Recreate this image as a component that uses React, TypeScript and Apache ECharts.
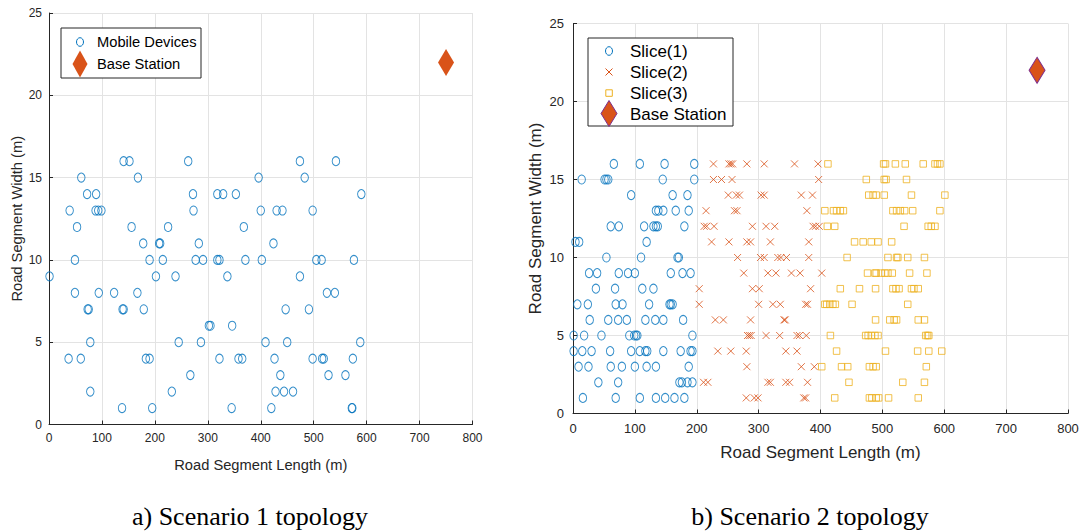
import React, { useEffect, useRef } from "react";
import * as echarts from "echarts";

// ---------- Data ----------
const xTicks = { min: 0, max: 800, interval: 100 };
const yTicks = { min: 0, max: 25, interval: 5 };

const baseStation1: [number, number][] = [[750, 22]];
const baseStation2: [number, number][] = [[750, 22]];

// Scenario 1: mobile devices [length, width]
const mobileDevices: [number, number][] = [
  [141, 16], [152, 16], [263, 16], [474, 16], [542, 16],
  [61, 15], [168, 15], [396, 15], [483, 15],
  [72, 14], [89, 14], [272, 14], [318, 14], [329, 14], [353, 14], [590, 14],
  [39, 13], [88, 13], [93, 13], [99, 13], [273, 13], [400, 13], [430, 13], [441, 13], [498, 13],
  [53, 12], [156, 12], [225, 12], [368, 12],
  [178, 11], [208, 11], [210, 11], [283, 11], [424, 11],
  [49, 10], [190, 10], [215, 10], [277, 10], [291, 10], [318, 10], [322, 10], [371, 10], [402, 10], [505, 10], [515, 10], [576, 10],
  [1, 9], [202, 9], [239, 9], [337, 9], [474, 9],
  [49, 8], [94, 8], [123, 8], [167, 8], [525, 8], [540, 8],
  [73, 7], [75, 7], [139, 7], [141, 7], [179, 7], [447, 7], [491, 7],
  [302, 6], [305, 6], [346, 6],
  [78, 5], [245, 5], [287, 5], [409, 5], [450, 5], [588, 5],
  [37, 4], [60, 4], [183, 4], [190, 4], [322, 4], [358, 4], [365, 4], [426, 4], [498, 4], [516, 4], [519, 4], [574, 4],
  [267, 3], [437, 3], [528, 3], [560, 3],
  [78, 2], [232, 2], [428, 2], [444, 2], [461, 2],
  [138, 1], [195, 1], [345, 1], [420, 1], [572, 1], [573, 1],
];

// Scenario 2: slices
const slice1: [number, number][] = [
  [66, 16], [108, 16], [148, 16], [196, 16],
  [14, 15], [51, 15], [54, 15], [57, 15], [145, 15], [196, 15],
  [94, 14], [161, 14], [185, 14],
  [134, 13], [138, 13], [146, 13], [166, 13], [187, 13],
  [61, 12], [74, 12], [115, 12], [130, 12], [134, 12], [137, 12], [180, 12],
  [4, 11], [10, 11], [119, 11],
  [54, 10], [110, 10], [169, 10], [171, 10],
  [26, 9], [39, 9], [74, 9], [89, 9], [100, 9], [158, 9], [177, 9], [190, 9],
  [37, 8], [68, 8], [112, 8], [130, 8],
  [7, 7], [24, 7], [69, 7], [80, 7], [123, 7], [156, 7], [158, 7], [161, 7],
  [27, 6], [57, 6], [73, 6], [87, 6], [117, 6], [133, 6], [146, 6], [178, 6],
  [1, 5], [18, 5], [46, 5], [91, 5], [99, 5], [102, 5], [104, 5], [193, 5],
  [1, 4], [15, 4], [30, 4], [60, 4], [94, 4], [108, 4], [117, 4], [120, 4], [146, 4], [174, 4], [190, 4], [193, 4],
  [9, 3], [25, 3], [61, 3], [79, 3], [100, 3], [119, 3], [134, 3], [187, 3],
  [41, 2], [73, 2], [172, 2], [176, 2], [185, 2], [193, 2],
  [16, 1], [69, 1], [108, 1], [134, 1], [149, 1], [164, 1], [180, 1],
];

const slice2: [number, number][] = [
  [227, 16], [252, 16], [255, 16], [258, 16], [281, 16], [309, 16], [358, 16], [396, 16],
  [227, 15], [240, 15], [257, 15], [397, 15],
  [251, 14], [264, 14], [269, 14], [304, 14], [309, 14], [369, 14], [387, 14],
  [215, 13], [261, 13], [265, 13], [378, 13],
  [212, 12], [216, 12], [228, 12], [290, 12], [312, 12], [326, 12], [388, 12], [392, 12], [398, 12],
  [224, 11], [252, 11], [281, 11], [287, 11], [319, 11], [381, 11],
  [266, 10], [303, 10], [309, 10], [331, 10], [336, 10], [345, 10], [381, 10],
  [276, 9], [315, 9], [328, 9], [353, 9], [367, 9], [402, 9],
  [204, 8], [290, 8], [301, 8], [384, 8],
  [204, 7], [300, 7], [323, 7], [335, 7], [376, 7], [379, 7],
  [230, 6], [243, 6], [287, 6], [341, 6], [343, 6],
  [282, 5], [285, 5], [288, 5], [312, 5], [334, 5], [362, 5], [366, 5], [377, 5],
  [234, 4], [255, 4], [280, 4], [344, 4], [362, 4],
  [281, 3], [369, 3], [390, 3],
  [211, 2], [218, 2], [315, 2], [319, 2], [344, 2], [350, 2], [379, 2],
  [280, 1], [293, 1], [299, 1], [373, 1], [376, 1],
];

const slice3: [number, number][] = [
  [412, 16], [502, 16], [505, 16], [521, 16], [537, 16], [566, 16], [585, 16], [589, 16], [593, 16],
  [474, 15], [503, 15], [506, 15], [539, 15],
  [478, 14], [485, 14], [490, 14], [503, 14], [547, 14], [601, 14],
  [407, 13], [421, 13], [426, 13], [432, 13], [437, 13], [517, 13], [523, 13], [529, 13], [536, 13], [549, 13], [593, 13],
  [411, 12], [423, 12], [535, 12], [574, 12], [579, 12], [585, 12],
  [455, 11], [469, 11], [482, 11], [493, 11], [515, 11],
  [443, 10], [509, 10], [523, 10], [525, 10], [541, 10], [568, 10],
  [476, 9], [488, 9], [490, 9], [498, 9], [504, 9], [509, 9], [516, 9], [544, 9], [572, 9],
  [432, 8], [463, 8], [489, 8], [517, 8], [522, 8], [527, 8], [547, 8], [551, 8], [558, 8],
  [407, 7], [410, 7], [415, 7], [420, 7], [424, 7], [451, 7], [541, 7],
  [489, 6], [512, 6], [519, 6], [523, 6], [558, 6], [568, 6],
  [416, 5], [473, 5], [477, 5], [482, 5], [488, 5], [493, 5], [570, 5], [573, 5], [575, 5],
  [426, 4], [505, 4], [557, 4], [575, 4], [596, 4],
  [402, 3], [434, 3], [444, 3], [479, 3], [485, 3], [490, 3], [571, 3],
  [446, 2], [533, 2], [568, 2],
  [423, 1], [479, 1], [483, 1], [490, 1], [494, 1], [510, 1], [558, 1],
];

const legend1Labels = ["Mobile Devices", "Base Station"];
const legend2Labels = ["Slice(1)", "Slice(2)", "Slice(3)", "Base Station"];
const xAxisTitle = "Road Segment Length (m)";
const yAxisTitle = "Road Segment Width (m)";
const captions = ["a) Scenario 1 topology", "b) Scenario 2 topology"];

// ---------- Styles ----------
const BLUE = "#0072BD";
const ORANGE = "#D95319";
const YELLOW = "#EDB120";
const PURPLE = "#7E2F8E";
const AX = "#262626";
const GRIDC = "#e3e3e3";
const FONT = "Liberation Sans";
const XPATH = "path://M0,0L10,10M10,0L0,10";
const ZTOP = 100;

function makeXAxis(gridIndex: number, fs: number, nameFs: number, nameGap: number, margin: number) {
  return {
    gridIndex,
    type: "value",
    min: xTicks.min,
    max: xTicks.max,
    interval: xTicks.interval,
    name: xAxisTitle,
    nameLocation: "middle",
    nameGap,
    nameTextStyle: { color: AX, fontSize: nameFs, fontFamily: FONT },
    axisLine: { show: true, onZero: false, lineStyle: { color: AX, width: 1 } },
    axisTick: { show: true, inside: true, length: 4, lineStyle: { color: AX } },
    axisLabel: { color: AX, fontSize: fs, fontFamily: FONT, margin },
    splitLine: { show: true, lineStyle: { color: GRIDC, width: 1 } },
  };
}

function makeYAxis(gridIndex: number, fs: number, nameFs: number, nameGap: number, margin: number) {
  return {
    gridIndex,
    type: "value",
    min: yTicks.min,
    max: yTicks.max,
    interval: yTicks.interval,
    name: yAxisTitle,
    nameLocation: "middle",
    nameGap,
    nameRotate: 90,
    nameTextStyle: { color: AX, fontSize: nameFs, fontFamily: FONT },
    axisLine: { show: true, onZero: false, lineStyle: { color: AX, width: 1 } },
    axisTick: { show: true, inside: true, length: 4, lineStyle: { color: AX } },
    axisLabel: { color: AX, fontSize: fs, fontFamily: FONT, margin },
    splitLine: { show: true, lineStyle: { color: GRIDC, width: 1 } },
  };
}

function legendText(x: number, y: number, text: string, fs: number) {
  return {
    type: "text",
    z: ZTOP,
    x,
    y,
    style: { text, fill: "#000", fontSize: fs, fontFamily: FONT, align: "left", verticalAlign: "middle" },
  };
}

export default function App() {
  const ref = useRef<HTMLDivElement>(null);

  useEffect(() => {
    if (!ref.current) return;
    const chart = echarts.init(ref.current, undefined, { renderer: "svg" });

    const option: any = {
      animation: false,
      backgroundColor: "#fff",
      textStyle: { fontFamily: FONT },
      grid: [
        { left: 49, top: 13, width: 423.5, height: 411.5 },
        { left: 573, top: 23.5, width: 495, height: 390 },
      ],
      xAxis: [makeXAxis(0, 12, 14.7, 33, 7), makeXAxis(1, 13, 17, 30, 8)],
      yAxis: [makeYAxis(0, 12, 14.7, 25, 7), makeYAxis(1, 13, 17, 29, 9)],
      series: [
        {
          name: legend1Labels[0],
          type: "scatter",
          xAxisIndex: 0,
          yAxisIndex: 0,
          data: mobileDevices,
          symbol: "circle",
          symbolSize: [7.5, 9],
          itemStyle: { color: "transparent", borderColor: BLUE, borderWidth: 1 },
          silent: true,
        },
        {
          name: legend1Labels[1],
          type: "scatter",
          xAxisIndex: 0,
          yAxisIndex: 0,
          data: baseStation1,
          symbol: "diamond",
          symbolSize: [16, 27],
          itemStyle: { color: ORANGE, opacity: 1 },
          silent: true,
        },
        {
          name: legend2Labels[0],
          type: "scatter",
          xAxisIndex: 1,
          yAxisIndex: 1,
          data: slice1,
          symbol: "circle",
          symbolSize: [7.5, 9],
          itemStyle: { color: "transparent", borderColor: BLUE, borderWidth: 1 },
          silent: true,
        },
        {
          name: legend2Labels[1],
          type: "scatter",
          xAxisIndex: 1,
          yAxisIndex: 1,
          data: slice2,
          symbol: XPATH,
          symbolSize: 7,
          itemStyle: { color: "none", borderColor: ORANGE, borderWidth: 1 },
          silent: true,
        },
        {
          name: legend2Labels[2],
          type: "scatter",
          xAxisIndex: 1,
          yAxisIndex: 1,
          data: slice3,
          symbol: "rect",
          symbolSize: 6.5,
          itemStyle: { color: "transparent", borderColor: YELLOW, borderWidth: 1 },
          silent: true,
        },
        {
          name: legend2Labels[3],
          type: "scatter",
          xAxisIndex: 1,
          yAxisIndex: 1,
          data: baseStation2,
          symbol: "diamond",
          symbolSize: [16, 26],
          itemStyle: { color: ORANGE, borderColor: PURPLE, borderWidth: 1, opacity: 1 },
          silent: true,
        },
      ],
      graphic: [
        // Legend 1
        { type: "rect", z: ZTOP, shape: { x: 61, y: 28, width: 140, height: 50 }, style: { fill: "#fff", stroke: AX, lineWidth: 1 } },
        { type: "ellipse", z: ZTOP, shape: { cx: 80, cy: 42, rx: 3.5, ry: 4.3 }, style: { fill: "none", stroke: BLUE, lineWidth: 1 } },
        legendText(97, 42, legend1Labels[0], 14.7),
        { type: "polygon", z: ZTOP, shape: { points: [[80, 50.5], [87.5, 64], [80, 77.5], [72.5, 64]] }, style: { fill: ORANGE } },
        legendText(97, 64, legend1Labels[1], 14.7),
        // Legend 2
        { type: "rect", z: ZTOP, shape: { x: 588, y: 38, width: 145, height: 88 }, style: { fill: "#fff", stroke: AX, lineWidth: 1 } },
        { type: "ellipse", z: ZTOP, shape: { cx: 609, cy: 51, rx: 3.5, ry: 4.3 }, style: { fill: "none", stroke: BLUE, lineWidth: 1 } },
        legendText(630, 51, legend2Labels[0], 17),
        { type: "line", z: ZTOP, shape: { x1: 605.5, y1: 68.5, x2: 612.5, y2: 75.5 }, style: { stroke: ORANGE, lineWidth: 1 } },
        { type: "line", z: ZTOP, shape: { x1: 612.5, y1: 68.5, x2: 605.5, y2: 75.5 }, style: { stroke: ORANGE, lineWidth: 1 } },
        legendText(630, 72, legend2Labels[1], 17),
        { type: "rect", z: ZTOP, shape: { x: 605.8, y: 89.8, width: 6.5, height: 6.5 }, style: { fill: "none", stroke: YELLOW, lineWidth: 1 } },
        legendText(630, 93, legend2Labels[2], 17),
        { type: "polygon", z: ZTOP, shape: { points: [[609, 100.5], [617, 113.5], [609, 126.5], [601, 113.5]] }, style: { fill: ORANGE, stroke: PURPLE, lineWidth: 1 } },
        legendText(630, 114, legend2Labels[3], 17),
        // Captions
        {
          type: "text",
          z: ZTOP,
          x: 250,
          y: 516,
          style: { text: captions[0], fill: "#000", fontSize: 26, fontFamily: "Liberation Serif", align: "center", verticalAlign: "middle" },
        },
        {
          type: "text",
          z: ZTOP,
          x: 810,
          y: 516,
          style: { text: captions[1], fill: "#000", fontSize: 26, fontFamily: "Liberation Serif", align: "center", verticalAlign: "middle" },
        },
      ],
    };

    chart.setOption(option);
    return () => chart.dispose();
  }, []);

  return (
    <div
      ref={ref}
      style={{ position: "absolute", left: 0, top: 0, width: 1089, height: 531, background: "#fff" }}
    />
  );
}
